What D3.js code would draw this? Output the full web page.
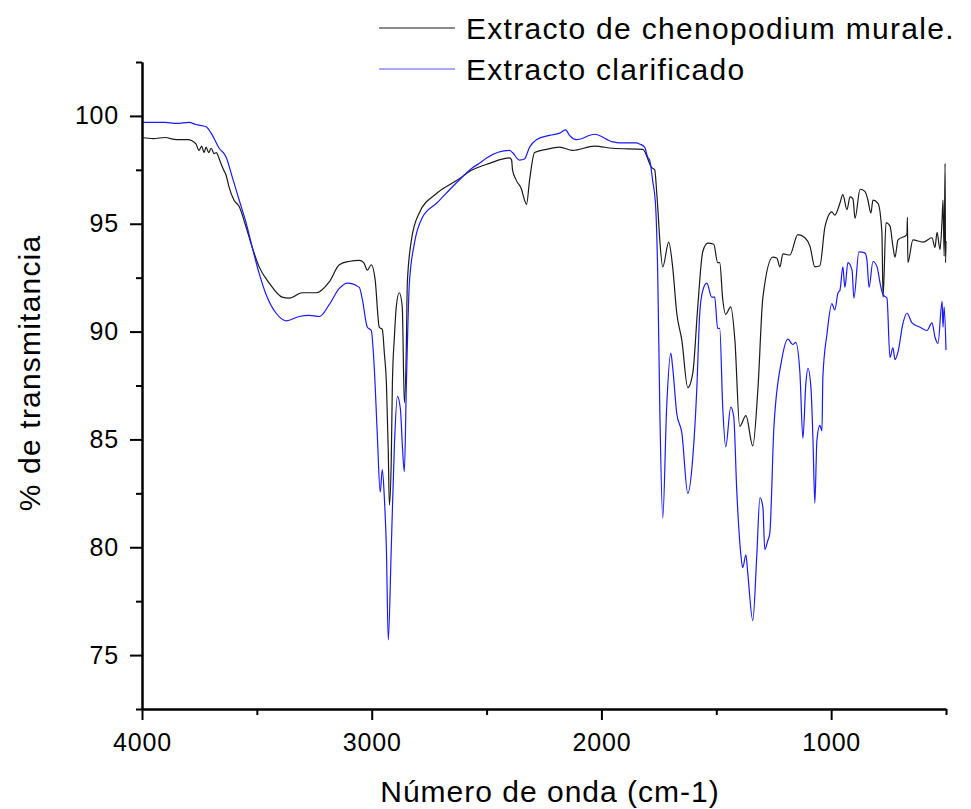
<!DOCTYPE html>
<html>
<head>
<meta charset="utf-8">
<script src="https://cdn.jsdelivr.net/npm/d3@7"></script>
<style>
  html, body { margin: 0; padding: 0; background: #fff; }
  svg { display: block; font-family: "Liberation Sans", Arial, sans-serif; }
</style>
</head>
<body>
<svg id="chart" width="971" height="809"></svg>
<script>
// ---- Data ----
const seriesNames = ["Extracto de chenopodium murale.", "Extracto clarificado"];

// Extracto de chenopodium murale. : [wavenumber cm-1, % transmittance]
const muraleWavenumber = [4000,3950,3900,3850,3800,3765,3752,3740,3730,3721,3710,3699,3686,3677,3660,3645,3634,3621,3600,3577,3547,3520,3490,3446,3390,3359,3303,3241,3185,3141,3100,3054,3035,3019,3002,2985,2967,2954,2945,2936,2928,2923,2915,2910,2901,2893,2880,2867,2858,2849,2845,2827,2793,2718,2631,2561,2487,2400,2391,2387,2370,2348,2335,2326,2313,2291,2239,2182,2126,2030,1951,1820,1781,1768,1759,1755,1746,1733,1707,1690,1672,1650,1624,1602,1581,1559,1537,1511,1494,1485,1472,1459,1437,1419,1398,1371,1341,1319,1297,1254,1236,1223,1210,1180,1145,1114,1092,1071,1049,1027,997,984,962,949,931,918,905,896,874,853,840,827,818,796,779,774,761,744,731,722,709,670,668,666,644,600,561,548,539,526,517,513,508,504,502,500];
const muraleT = [99.0,98.95,99.0,98.9,98.9,98.7,98.4,98.6,98.3,98.55,98.3,98.5,98.25,98.3,97.9,97.5,97.25,96.7,96.1,95.8,94.85,93.9,93.0,92.25,91.6,91.55,91.8,91.8,92.3,93.1,93.25,93.3,93.2,92.85,93.1,92.4,90.2,90.1,89.0,87.6,84.5,81.95,84.0,87.6,89.8,91.15,91.8,91.15,86.7,89.5,92.25,94.25,95.5,96.4,97.0,97.5,97.8,98.05,97.95,97.5,97.0,96.6,96.1,95.9,97.0,98.3,98.45,98.55,98.4,98.6,98.5,98.45,97.6,97.5,96.4,95.8,94.25,93.0,94.15,93.0,90.85,89.6,87.4,88.1,91.1,93.7,94.1,94.05,93.2,93.2,91.5,90.8,91.15,89.6,85.6,86.1,84.7,87.3,91.6,93.45,93.4,93.0,93.6,93.55,94.5,94.35,93.95,93.0,93.05,94.85,95.55,95.4,95.95,96.35,95.65,96.25,96.15,95.25,96.6,96.5,96.1,95.5,96.1,95.95,94.6,91.6,95.05,94.9,93.95,93.45,94.25,94.5,95.3,93.2,94.25,94.15,94.35,93.9,94.6,93.8,95.2,96.1,93.5,97.8,93.2,94.2];

// Extracto clarificado : [wavenumber cm-1, % transmittance]
const clarifWavenumber = [4000,3900,3850,3795,3765,3721,3699,3664,3634,3608,3577,3547,3520,3490,3459,3416,3372,3316,3272,3228,3185,3141,3106,3054,3041,3019,3002,2989,2976,2963,2954,2945,2936,2928,2915,2901,2888,2875,2867,2858,2849,2836,2814,2779,2718,2631,2561,2531,2500,2400,2387,2357,2335,2313,2283,2226,2182,2156,2139,2108,2030,1951,1921,1847,1834,1812,1799,1790,1777,1764,1755,1746,1733,1716,1698,1690,1672,1650,1624,1602,1585,1572,1559,1541,1520,1507,1494,1485,1472,1459,1437,1424,1411,1393,1385,1371,1363,1341,1324,1310,1297,1289,1276,1267,1249,1215,1188,1167,1154,1136,1123,1110,1101,1088,1079,1071,1062,1049,1040,1036,1018,997,984,970,962,949,940,927,909,901,879,853,844,835,818,800,787,774,757,744,731,722,709,687,670,648,613,583,561,548,535,517,513,508,500];
const clarifT = [99.7,99.7,99.65,99.7,99.6,99.5,99.2,98.5,98.1,97.2,96.1,95.05,93.9,92.7,91.7,90.85,90.5,90.7,90.75,90.7,91.25,92.0,92.25,92.05,91.5,90.2,90.05,88.35,85.3,82.55,83.6,82.3,79.9,75.7,79.9,84.8,87.0,86.4,84.8,83.5,87.6,92.25,94.1,95.3,95.95,96.9,97.6,97.8,98.05,98.4,98.3,97.95,98.0,98.55,98.9,99.1,99.2,99.35,99.1,98.9,99.15,98.8,98.75,98.75,98.7,98.55,98.1,97.95,97.0,95.8,92.7,86.5,81.35,86.5,89.0,88.35,86.2,85.3,82.5,84.2,87.3,90.85,91.9,92.25,91.6,91.6,90.15,90.15,86.5,84.65,86.5,86.05,82.65,79.65,79.05,79.65,78.8,76.6,79.55,82.3,81.85,79.9,80.3,80.65,85.6,88.7,89.65,89.4,89.5,88.1,85.05,87.6,88.3,87.4,84.95,82.05,84.95,85.65,85.4,87.9,89.9,91.3,91.0,91.8,91.9,93.0,92.05,93.2,92.85,91.55,93.7,93.65,93.3,92.05,93.25,93.0,92.25,91.7,91.55,88.8,89.25,88.7,89.05,90.4,90.85,90.4,90.2,90.05,90.4,89.75,89.45,91.4,90.2,91.15,89.15];

const xMajorTicks = [4000, 3000, 2000, 1000];
const xMinorTicks = [3500, 2500, 1500, 500];
const yMajorTicks = [75, 80, 85, 90, 95, 100];
const yMinorTicks = [72.5, 77.5, 82.5, 87.5, 92.5, 97.5, 102.5];

const xTitle = "Número de onda (cm-1)";
const yTitle = "% de transmitancia";

// ---- Layout ----
const margin = { left: 142, right: 946, top: 62, bottom: 709 };
const svg = d3.select("#chart");

const x = d3.scaleLinear().domain([4000, 500]).range([margin.left, margin.right]);
const y = d3.scaleLinear().domain([72.5, 102.5]).range([margin.bottom, margin.top]);

const muraleData = muraleWavenumber.map((w, i) => [w, muraleT[i]]);
const clarifData = clarifWavenumber.map((w, i) => [w, clarifT[i]]);

const line = d3.line().x(d => x(d[0])).y(d => y(d[1])).curve(d3.curveMonotoneX);

const plot = svg.append("g");
plot.append("path").datum(muraleData)
  .attr("fill", "none").attr("stroke", "#1a1a1a").attr("stroke-width", 1.2)
  .attr("stroke-linejoin", "round").attr("d", line);
plot.append("path").datum(clarifData)
  .attr("fill", "none").attr("stroke", "#1a1aff").attr("stroke-width", 1.2)
  .attr("stroke-linejoin", "round").attr("d", line);

// ---- Axes ----
function styleAxis(g) {
  g.selectAll("path.domain").attr("stroke", "#000").attr("stroke-width", 2);
  g.selectAll(".tick line").attr("stroke", "#000").attr("stroke-width", 2);
  g.selectAll(".tick text").attr("fill", "#000")
    .style("font-size", "25px").style("font-family", "Liberation Sans, Arial, sans-serif")
    .attr("letter-spacing", "0.8px");
}

const xAxisMajor = svg.append("g").attr("transform", `translate(0,${margin.bottom})`)
  .call(d3.axisBottom(x).tickValues(xMajorTicks).tickSize(11).tickSizeOuter(0).tickPadding(13).tickFormat(d3.format("d")));
styleAxis(xAxisMajor);
const xAxisMinor = svg.append("g").attr("transform", `translate(0,${margin.bottom})`)
  .call(d3.axisBottom(x).tickValues(xMinorTicks).tickSize(6).tickSizeOuter(0).tickFormat(""));
styleAxis(xAxisMinor);

const yAxisMajor = svg.append("g").attr("transform", `translate(${margin.left},0)`)
  .call(d3.axisLeft(y).tickValues(yMajorTicks).tickSize(12).tickSizeOuter(0).tickPadding(11).tickFormat(d3.format("d")));
styleAxis(yAxisMajor);
const yAxisMinor = svg.append("g").attr("transform", `translate(${margin.left},0)`)
  .call(d3.axisLeft(y).tickValues(yMinorTicks).tickSize(6).tickSizeOuter(0).tickFormat(""));
styleAxis(yAxisMinor);

// ---- Titles ----
svg.append("text")
  .attr("x", (margin.left + margin.right) / 2 + 6).attr("y", 802)
  .attr("text-anchor", "middle").attr("fill", "#000")
  .style("font-size", "30px").attr("letter-spacing", "1px")
  .text(xTitle);

svg.append("text")
  .attr("transform", `translate(40,373) rotate(-90)`)
  .attr("text-anchor", "middle").attr("fill", "#000")
  .style("font-size", "30px").attr("letter-spacing", "1.2px")
  .text(yTitle);

// ---- Legend ----
const legendColors = ["#1a1a1a", "#5555ff"];
const legend = svg.append("g");
seriesNames.forEach((name, i) => {
  const ly = 28 + i * 41;
  legend.append("line")
    .attr("x1", 379).attr("x2", 455).attr("y1", ly).attr("y2", ly)
    .attr("stroke", legendColors[i]).attr("stroke-width", 1.2);
  legend.append("text")
    .attr("x", 466).attr("y", ly + 11)
    .attr("fill", "#000").style("font-size", "30px").attr("letter-spacing", "1.3px")
    .text(name);
});
</script>
</body>
</html>
